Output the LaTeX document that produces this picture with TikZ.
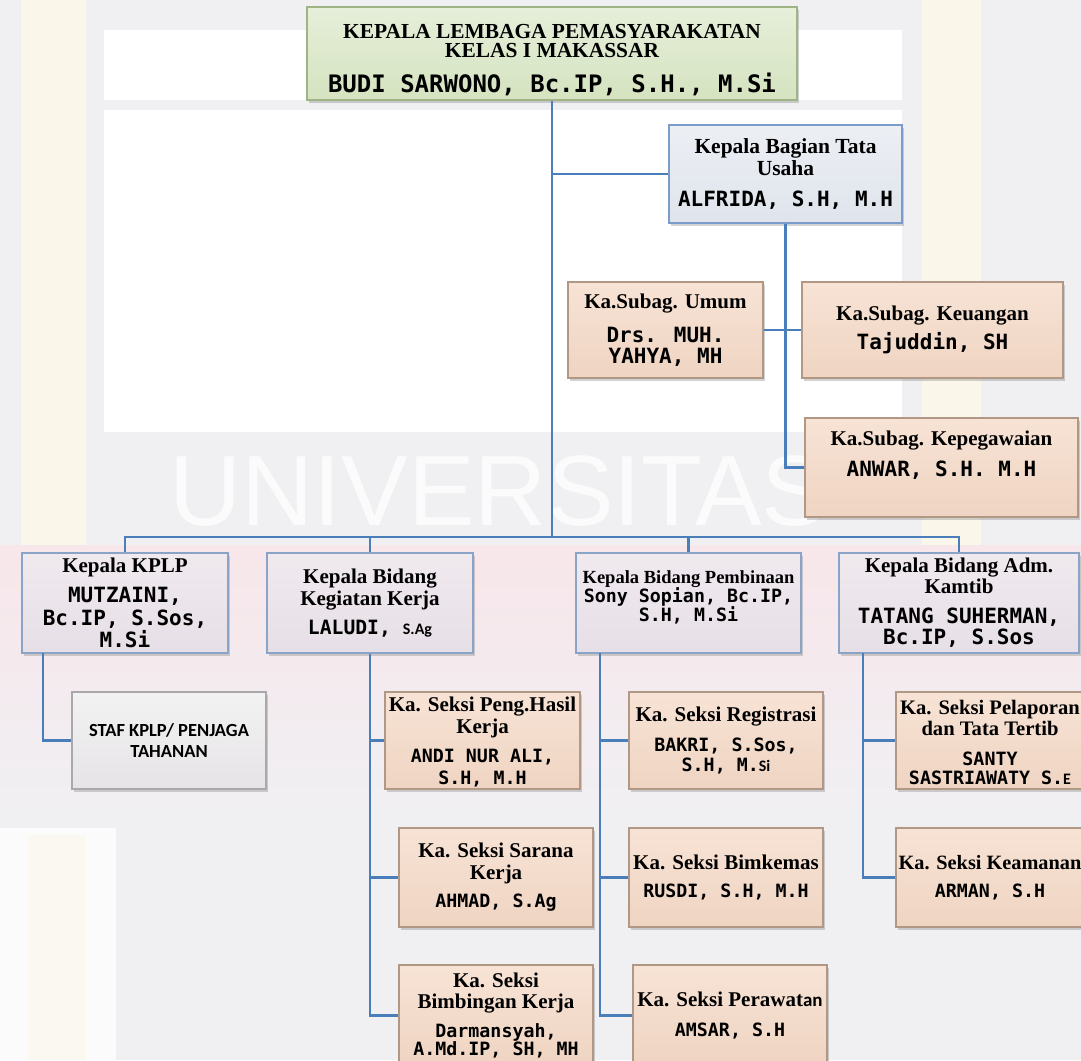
\documentclass[tikz,border=0pt]{standalone}
\usepackage{fontspec}
\setmainfont{Liberation Serif}
\newfontfamily\monof{DejaVu Sans Mono}
\newfontfamily\calf{Carlito}
\newfontfamily\wmf{Liberation Sans}
\usetikzlibrary{shadows}
\definecolor{connc}{HTML}{4A7EBB}
\definecolor{bggray}{HTML}{F0F0F3}
\definecolor{creamc}{HTML}{FAF6EA}
\definecolor{pinktop}{HTML}{F7E6EA}
\definecolor{wmc}{HTML}{FBFBFC}
\definecolor{hdraw}{HTML}{9FB385}
\definecolor{htop}{HTML}{E6EFDA}
\definecolor{hbot}{HTML}{D5E3C0}
\definecolor{bdraw}{HTML}{7B9CC8}
\definecolor{btop}{HTML}{ECEFF4}
\definecolor{bbot}{HTML}{DFE4EC}
\definecolor{ldraw}{HTML}{8AA4C8}
\definecolor{ltop}{HTML}{F0E9EE}
\definecolor{lbot}{HTML}{E6DFE7}
\definecolor{pdraw}{HTML}{B09884}
\definecolor{ptop}{HTML}{F7E3D5}
\definecolor{pbot}{HTML}{EFD4C2}
\definecolor{gdraw}{HTML}{A9A9A9}
\definecolor{gtop}{HTML}{F3F2F3}
\definecolor{gbot}{HTML}{E6E4E6}
\newcommand\nmA{\monof\bfseries\fontsize{24}{26}\selectfont}
\newcommand\nmB{\monof\bfseries\fontsize{21}{22}\selectfont}
\newcommand\nmC{\monof\bfseries\fontsize{18.3}{20}\selectfont}
\newcommand\smsans{\calf\bfseries\fontsize{16}{18}\selectfont}
\tikzset{
  boxbase/.style={draw, line width=1.1pt, inner sep=0pt, align=center,
    drop shadow={shadow xshift=1.5pt, shadow yshift=-2.5pt, opacity=0.35}},
  sz/.style 2 args={minimum width=#1pt, minimum height=#2pt},
  headbox/.style={boxbase, draw=hdraw, top color=htop, bottom color=hbot,
    font=\bfseries\fontsize{21.4}{19.5}\selectfont},
  bluebox/.style={boxbase, draw=bdraw, top color=btop, bottom color=bbot,
    font=\bfseries\fontsize{21.5}{22}\selectfont},
  lavbox/.style={boxbase, draw=ldraw, top color=ltop, bottom color=lbot,
    font=\bfseries\fontsize{21}{22}\selectfont},
  peachbox/.style={boxbase, draw=pdraw, top color=ptop, bottom color=pbot,
    font=\bfseries\fontsize{21}{21.5}\selectfont},
  graybox/.style={boxbase, draw=gdraw, top color=gtop, bottom color=gbot,
    font=\calf\bfseries\fontsize{18.5}{21}\selectfont},
  conn/.style={draw=connc, line width=2.3pt},
}
\begin{document}
\begin{tikzpicture}[x=1pt,y=-1pt]
\useasboundingbox (0,0) rectangle (1081,1060);
\clip (0,0) rectangle (1081,1060);
% background / watermark
\fill[bggray] (0,0) rectangle (1081,1060);
\fill[creamc] (21,0) rectangle (86,545);
\fill[creamc] (922,0) rectangle (981,545);
\fill[white] (104,30) rectangle (902,100);
\fill[white] (104,110) rectangle (902,432);
\shade[top color=pinktop, bottom color=bggray] (0,545) rectangle (1081,830);
\fill[wmc] (0,828) rectangle (116,1060);
\fill[creamc!60!wmc] (28,835) rectangle (86,1060);
\node[anchor=base west, inner sep=0pt, text=wmc,
  font=\wmf\fontsize{100}{100}\selectfont] (wm) at (169,525) {UNIVERSITAS};

% boxes
\node[headbox, sz={490}{93}] (top) at (552,53.5)
  {\rule{0pt}{27pt}KEPALA LEMBAGA PEMASYARAKATAN\\KELAS I MAKASSAR\\[14pt]{\nmA BUDI SARWONO, Bc.IP, S.H., M.Si}};
\node[bluebox, sz={233}{98}] (tu) at (785.5,174)
  {Kepala Bagian Tata\\Usaha\\[9pt]{\nmB ALFRIDA, S.H, M.H}};
\node[peachbox, sz={195}{96}, font=\bfseries\fontsize{21}{21}\selectfont] (umum) at (665.5,330)
  {Ka.Subag. Umum\\[13pt]{\nmB Drs. MUH.}\\{\nmB YAHYA, MH}};
\node[peachbox, sz={261}{96}] (keu) at (932.5,330)
  {Ka.Subag. Keuangan\\[6pt]{\nmB Tajuddin, SH}};
\node[peachbox, sz={273}{99}] (peg) at (941.5,467.5)
  {Ka.Subag. Kepegawaian\\[9pt]{\nmB ANWAR, S.H. M.H}\\[6pt]\phantom{X}};
\node[lavbox, sz={206}{100}, font=\bfseries\fontsize{21}{22.5}\selectfont] (kplp) at (125,603)
  {Kepala KPLP\\[7.5pt]{\nmB MUTZAINI,}\\{\nmB Bc.IP, S.Sos,}\\{\nmB M.Si}};
\node[lavbox, sz={206}{100}] (keg) at (370,603)
  {Kepala Bidang\\Kegiatan Kerja\\[7pt]{\monof\bfseries\fontsize{19.7}{22}\selectfont LALUDI, }{\smsans S.Ag}};
\node[lavbox, sz={225}{100}, font=\bfseries\fontsize{18.5}{19}\selectfont] (pemb) at (688.5,603)
  {Kepala Bidang Pembinaan\\{\nmC Sony Sopian, Bc.IP,}\\{\nmC S.H, M.Si}\\[-6pt]\phantom{x}};
\node[lavbox, sz={240}{100}, font=\bfseries\fontsize{21}{21}\selectfont] (kam) at (959,603)
  {Kepala Bidang Adm.\\Kamtib\\[9pt]{\nmB TATANG SUHERMAN,}\\{\nmB Bc.IP, S.Sos}};
\node[graybox, sz={194}{97}] (staf) at (169,740.5)
  {STAF KPLP/ PENJAGA\\TAHANAN};
\node[peachbox, sz={195}{97}] (hasil) at (482.5,740.5)
  {\rule{0pt}{18pt}Ka. Seksi Peng.Hasil\\Kerja\\[8pt]{\nmC ANDI NUR ALI,}\\{\nmC S.H, M.H}};
\node[peachbox, sz={194}{99}] (sarana) at (496,877.5)
  {Ka. Seksi Sarana\\Kerja\\[7pt]{\nmC AHMAD, S.Ag}};
\node[peachbox, sz={194}{101}] (bimb) at (496,1015.5)
  {Ka. Seksi\\Bimbingan Kerja\\[7pt]{\nmC Darmansyah,}\\[-3pt]{\nmC A.Md.IP, SH, MH}};
\node[peachbox, sz={194}{97}] (reg) at (726,740.5)
  {Ka. Seksi Registrasi\\[8pt]{\nmC BAKRI, S.Sos,}\\[-1pt]{\nmC S.H, M.}{\smsans Si}};
\node[peachbox, sz={194}{99}] (bimk) at (726,877.5)
  {Ka. Seksi Bimkemas\\[7pt]{\nmC RUSDI, S.H, M.H}};
\node[peachbox, sz={194}{101}] (peraw) at (730,1015.5)
  {Ka. Seksi Perawat{\calf\bfseries\fontsize{19}{21}\selectfont an}\\[9pt]{\nmC AMSAR, S.H}};
\node[peachbox, sz={188}{97}, font=\bfseries\fontsize{20.6}{21.5}\selectfont] (pel) at (990,740.5)
  {\rule{0pt}{18pt}Ka. Seksi Pelaporan\\dan Tata Tertib\\[8pt]{\nmC SANTY}\\[-2pt]{\nmC SASTRIAWATY S.}{\smsans E}};
\node[peachbox, sz={188}{99}, font=\bfseries\fontsize{20.3}{21.5}\selectfont] (keam) at (990,877.5)
  {Ka. Seksi Keamanan\\[7pt]{\nmC ARMAN, S.H}};

% connectors
\coordinate (bus) at (552,537);
\draw[conn] (top.south) -- (bus);
\draw[conn] (top.south |- tu.west) -- (tu.west);
\draw[conn] (tu.south) |- (peg.west);
\draw[conn] (umum.east) -- (keu.west);
\draw[conn] (kplp.north) |- (bus) -| (kam.north);
\draw[conn] (keg.north) -- (keg.north |- bus);
\draw[conn] (pemb.north) -- (pemb.north |- bus);
\coordinate (kplpB) at (43,653);
\draw[conn] (kplpB) |- (staf.west);
\draw[conn] (keg.south) |- (bimb.west);
\draw[conn] (keg.south |- hasil.west) -- (hasil.west);
\draw[conn] (keg.south |- sarana.west) -- (sarana.west);
\coordinate (pembB) at (600,653);
\draw[conn] (pembB) |- (peraw.west);
\draw[conn] (pembB |- reg.west) -- (reg.west);
\draw[conn] (pembB |- bimk.west) -- (bimk.west);
\coordinate (kamB) at (863,653);
\draw[conn] (kamB) |- (keam.west);
\draw[conn] (kamB |- pel.west) -- (pel.west);
\end{tikzpicture}
\end{document}
